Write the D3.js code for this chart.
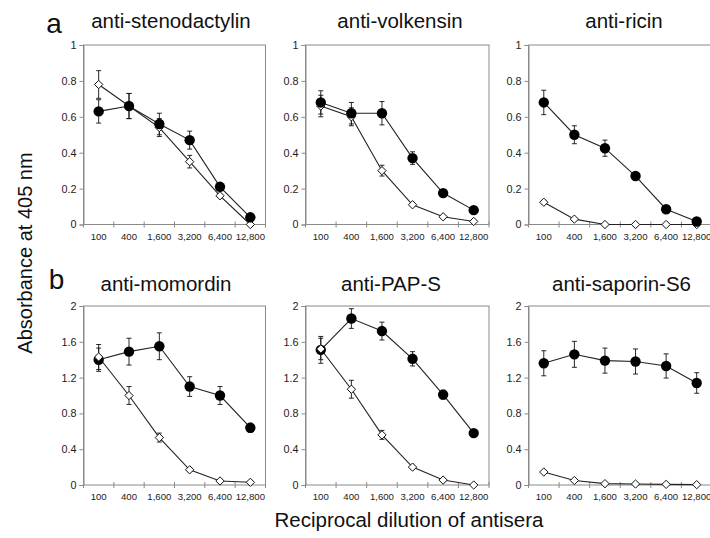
<script src="https://d3js.org/d3.v7.min.js"></script>

<div id="chart"></div>

<style>
body {
    margin: 0;
    padding: 0;
    background: #ffffff;
    font-family: 'Liberation Sans', Arial, sans-serif;
}
#chart svg { display: block; overflow: hidden; }
.tick-label { fill: #222; }
.frame { fill: none; stroke: #8a8a8a; stroke-width: 1; }
.axis-line { stroke: #8a8a8a; stroke-width: 1; }
</style>

<script>
// dilutions on the x axis
const dilutions = ["100", "400", "1,600", "3,200", "6,400", "12,800"];

// panel titles
const titles = ["anti-stenodactylin", "anti-volkensin", "anti-ricin",
                "anti-momordin", "anti-PAP-S", "anti-saporin-S6"];

// y tick labels for each row
const ticksTop = [0, 0.2, 0.4, 0.6, 0.8, 1];
const ticksBottom = [0, 0.4, 0.8, 1.2, 1.6, 2];

// filled circles (mean / error) and open diamonds (mean / error)
const stenoFilled    = [0.63, 0.66, 0.56, 0.47, 0.21, 0.04];
const stenoFilledErr = [0.065, 0.07, 0.06, 0.05, 0.015, 0.01];
const stenoOpen      = [0.78, 0.66, 0.54, 0.35, 0.16, 0.0];
const stenoOpenErr   = [0.077, 0.07, 0.05, 0.035, 0.01, 0];

const volkFilled    = [0.68, 0.62, 0.62, 0.37, 0.175, 0.08];
const volkFilledErr = [0.065, 0.06, 0.065, 0.035, 0.015, 0.01];
const volkOpen      = [0.66, 0.60, 0.30, 0.11, 0.043, 0.017];
const volkOpenErr   = [0.06, 0.05, 0.03, 0.01, 0.005, 0.005];

const ricinFilled    = [0.68, 0.50, 0.425, 0.27, 0.085, 0.017];
const ricinFilledErr = [0.068, 0.05, 0.045, 0.02, 0.01, 0.005];
const ricinOpen      = [0.124, 0.03, 0, 0, 0, 0];
const ricinOpenErr   = [0.01, 0.005, 0, 0, 0, 0];

const momFilled    = [1.40, 1.49, 1.55, 1.10, 1.00, 0.64];
const momFilledErr = [0.13, 0.15, 0.15, 0.11, 0.10, 0.05];
const momOpen      = [1.43, 1.00, 0.53, 0.17, 0.045, 0.03];
const momOpenErr   = [0.14, 0.10, 0.05, 0.02, 0.01, 0.01];

const papFilled    = [1.51, 1.86, 1.72, 1.41, 1.01, 0.58];
const papFilledErr = [0.15, 0.11, 0.10, 0.08, 0.05, 0.02];
const papOpen      = [1.52, 1.07, 0.56, 0.20, 0.055, 0.0];
const papOpenErr   = [0.12, 0.10, 0.05, 0.02, 0.01, 0];

const sapFilled    = [1.36, 1.46, 1.39, 1.38, 1.33, 1.14];
const sapFilledErr = [0.14, 0.145, 0.14, 0.14, 0.135, 0.115];
const sapOpen      = [0.145, 0.05, 0.015, 0.011, 0.007, 0.004];
const sapOpenErr   = [0.01, 0.01, 0, 0, 0, 0];

const W = 710, H = 538;

// panel layout (pixels)
const cols = [[83.5, 265.5], [305.5, 489], [528.5, 712]];
const rows = [[45, 224.5], [306, 485]];
const titleX = [171, 400, 624, 166, 391, 621.5];
const titleY = [28, 291];

const panels = [
    {filled: stenoFilled, filledErr: stenoFilledErr, open: stenoOpen, openErr: stenoOpenErr, max: 1, ticks: ticksTop, openOnTop: false},
    {filled: volkFilled,  filledErr: volkFilledErr,  open: volkOpen,  openErr: volkOpenErr,  max: 1, ticks: ticksTop, openOnTop: false},
    {filled: ricinFilled, filledErr: ricinFilledErr, open: ricinOpen, openErr: ricinOpenErr, max: 1, ticks: ticksTop, openOnTop: false},
    {filled: momFilled,   filledErr: momFilledErr,   open: momOpen,   openErr: momOpenErr,   max: 2, ticks: ticksBottom, openOnTop: true},
    {filled: papFilled,   filledErr: papFilledErr,   open: papOpen,   openErr: papOpenErr,   max: 2, ticks: ticksBottom, openOnTop: true},
    {filled: sapFilled,   filledErr: sapFilledErr,   open: sapOpen,   openErr: sapOpenErr,   max: 2, ticks: ticksBottom, openOnTop: false}
];

const svg = d3.select("#chart").append("svg")
    .attr("width", W).attr("height", H)
    .attr("font-family", "'Liberation Sans', Arial, sans-serif");

svg.append("rect").attr("width", W).attr("height", H).attr("fill", "#fff");

const diamond = d3.symbol().type(d3.symbolDiamond2).size(44);

panels.forEach((p, i) => {
    const [x0, x1] = cols[i % 3];
    const [y0, y1] = rows[Math.floor(i / 3)];

    const x = d3.scaleBand().domain(dilutions).range([x0, x1]).padding(0);
    const y = d3.scaleLinear().domain([0, p.max]).range([y1, y0]);

    const g = svg.append("g");

    // plot frame
    g.append("rect").attr("class", "frame")
        .attr("x", x0).attr("y", y0)
        .attr("width", x1 - x0).attr("height", y1 - y0);

    // y axis ticks + labels
    const yAxis = g.append("g").attr("transform", `translate(${x0},0)`)
        .call(d3.axisLeft(y).tickValues(p.ticks).tickSize(4).tickPadding(3)
            .tickFormat(d => d3.format("~g")(d)));
    yAxis.select(".domain").attr("stroke", "#8a8a8a");
    yAxis.selectAll(".tick line").attr("stroke", "#8a8a8a");
    yAxis.selectAll("text").attr("font-size", "10.8px").attr("fill", "#222")
        .attr("font-family", "'Liberation Sans', Arial, sans-serif");

    // x axis: cross ticks on band edges, labels at centres
    const edges = dilutions.map(d => x(d)).concat([x1]);
    g.selectAll(".xt").data(edges).join("line")
        .attr("class", "axis-line")
        .attr("x1", d => d).attr("x2", d => d)
        .attr("y1", y1 - 3).attr("y2", y1 + 3);

    g.selectAll(".xl").data(dilutions).join("text")
        .attr("class", "tick-label")
        .attr("x", d => x(d) + x.bandwidth() / 2)
        .attr("y", y1 + 15)
        .attr("text-anchor", "middle")
        .attr("font-size", "9.6px")
        .text(d => d);

    // title
    svg.append("text")
        .attr("x", titleX[i]).attr("y", titleY[Math.floor(i / 3)])
        .attr("text-anchor", "middle")
        .attr("font-size", "20.5px")
        .attr("fill", "#111")
        .text(titles[i]);

    const cx = (d, j) => x(dilutions[j]) + x.bandwidth() / 2;
    const line = d3.line().x((d, j) => cx(d, j)).y(d => y(d));

    function drawErr(vals, errs) {
        const eg = g.append("g").attr("stroke", "#111").attr("stroke-width", 0.9);
        vals.forEach((v, j) => {
            const e = errs[j];
            if (!e) return;
            const xc = cx(v, j);
            eg.append("line").attr("x1", xc).attr("x2", xc).attr("y1", y(v - e)).attr("y2", y(v + e));
            eg.append("line").attr("x1", xc - 2.5).attr("x2", xc + 2.5).attr("y1", y(v + e)).attr("y2", y(v + e));
            eg.append("line").attr("x1", xc - 2.5).attr("x2", xc + 2.5).attr("y1", y(v - e)).attr("y2", y(v - e));
        });
    }

    drawErr(p.filled, p.filledErr);
    drawErr(p.open, p.openErr);

    g.append("path").datum(p.filled).attr("d", line)
        .attr("fill", "none").attr("stroke", "#222").attr("stroke-width", 1.1);
    g.append("path").datum(p.open).attr("d", line)
        .attr("fill", "none").attr("stroke", "#222").attr("stroke-width", 1.1);

    function drawFilled() {
        g.append("g").selectAll("circle").data(p.filled).join("circle")
            .attr("cx", (d, j) => cx(d, j)).attr("cy", d => y(d))
            .attr("r", 5.2).attr("fill", "#000");
    }
    function drawOpen() {
        g.append("g").selectAll("path").data(p.open).join("path")
            .attr("d", diamond)
            .attr("transform", (d, j) => `translate(${cx(d, j)},${y(d)})`)
            .attr("fill", "#fff").attr("stroke", "#111").attr("stroke-width", 1);
    }
    if (p.openOnTop) { drawFilled(); drawOpen(); }
    else { drawOpen(); drawFilled(); }
});

// row letters
svg.append("text").attr("x", 54).attr("y", 33).attr("text-anchor", "middle")
    .attr("font-size", "28px").attr("fill", "#111").text("a");
svg.append("text").attr("x", 56.5).attr("y", 289).attr("text-anchor", "middle")
    .attr("font-size", "28px").attr("fill", "#111").text("b");

// shared axis titles
svg.append("text")
    .attr("transform", "translate(32,253) rotate(-90)")
    .attr("text-anchor", "middle")
    .attr("font-size", "20px").attr("fill", "#111")
    .text("Absorbance at 405 nm");

svg.append("text")
    .attr("x", 409).attr("y", 527)
    .attr("text-anchor", "middle")
    .attr("font-size", "20.5px").attr("fill", "#111")
    .text("Reciprocal dilution of antisera");
</script>
